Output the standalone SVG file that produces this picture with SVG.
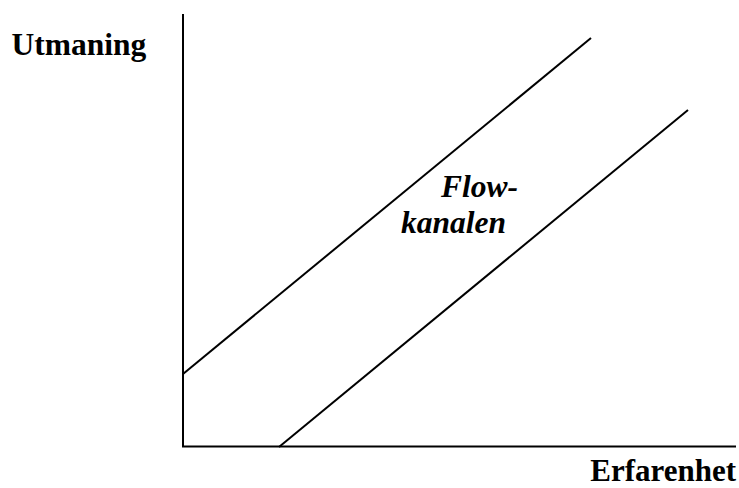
<svg xmlns="http://www.w3.org/2000/svg" width="739" height="488" viewBox="0 0 739 488">
<style>
.ln{stroke:#000;stroke-width:2;fill:none}
.t{font-family:"Liberation Serif","Times New Roman",serif;font-weight:bold;font-size:31.5px;fill:#000}
.i{font-style:italic}
</style>
<rect width="739" height="488" fill="#fff"/>
<g id="axes">
<path class="ln" d="M183,14 V447 M182,446.5 H736"/>
</g>
<g id="connectors">
<line class="ln" x1="183" y1="374" x2="591" y2="38"/>
<line class="ln" x1="279" y1="447" x2="688" y2="110"/>
</g>
<g id="label-y"><text class="t" x="11.5" y="55">Utmaning</text></g>
<g id="label-x"><text class="t" x="736" y="481" text-anchor="end" style="font-size:31px">Erfarenhet</text></g>
<g id="label-flow"><text class="t i" x="441" y="197">Flow-</text><text class="t i" x="401" y="233">kanalen</text></g>
</svg>
